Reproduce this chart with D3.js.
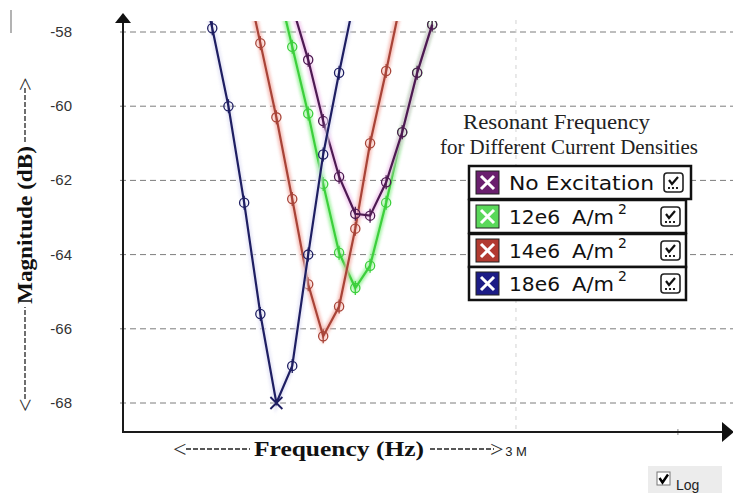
<!DOCTYPE html>
<html>
<head>
<meta charset="utf-8">
<script src="https://cdn.jsdelivr.net/npm/d3@7/dist/d3.min.js"></script>
<style>
  html, body { margin: 0; padding: 0; background: #fff; }
  svg { display: block; }
</style>
</head>
<body>
<svg id="chart" width="733" height="493"></svg>
<script>
// Sweep frequencies (MHz), shared by all series
const freqMHz = [1.700, 1.749, 1.800, 1.851, 1.905, 1.960, 2.016, 2.074, 2.130, 2.191, 2.255, 2.315, 2.382, 2.451, 2.517, 2.585];

// Magnitude (dB) per excitation level; null = no sample
const noExcitation = [null, null, null, null, null, null, -57.3, -58.75, -60.4, -61.9, -62.9, -62.95, -62.05, -60.7, -59.1, -57.8];
const density12e6  = [null, null, null, null, null, -56.6, -58.4, -60.2, -62.1, -63.95, -64.9, -64.3, -62.6, -60.7, -59.1, -57.8];
const density14e6  = [null, null, null, -56.3, -58.3, -60.3, -62.5, -64.8, -66.2, -65.4, -63.3, -61.0, -59.05, -57.0, null, null];
const density18e6  = [-56.0, -57.9, -60.0, -62.6, -65.6, -68.0, -67.0, -64.0, -61.3, -59.1, -57.0, null, null, null, null, null];

const yTicks = [-58, -60, -62, -64, -66, -68];
const xTicksMHz = [3];
const xTickLabels = ["3 M"];
const xMinorTicksMHz = [4];

const legendTitle = ["Resonant Frequency", "for Different Current Densities"];
const seriesNames = ["No Excitation", "12e6 A/m", "14e6 A/m", "18e6 A/m"];
const seriesSup   = ["", "2", "2", "2"];
const seriesColors = ["#4d1a52", "#3ccf3c", "#a84438", "#1e1e62"];
const haloColors   = ["#eec0ea", "#8ff08f", "#f4b0a8", "#e0e0f4"];
const swatchColors = ["#6a1f6e", "#5ad85a", "#b23a30", "#1c1c86"];
const seriesValues = [noExcitation, density12e6, density14e6, density18e6];
const drawOrder = [1, 2, 0, 3];

const svg = d3.select("#chart");

// Plot geometry
const plotLeft = 123, plotBottom = 432, plotRight = 725, plotTop = 14;

const x = d3.scaleLog().domain([1.4925, 4.349]).range([plotLeft, plotRight]);
const y = d3.scaleLinear().domain([-68, -58]).range([403, 32]);

const defs = svg.append("defs");
defs.append("clipPath").attr("id", "plotClip")
  .append("rect").attr("x", plotLeft).attr("y", 21).attr("width", 733 - plotLeft).attr("height", plotBottom - 21);
defs.append("filter").attr("id", "soft").attr("x", "-20%").attr("y", "-20%").attr("width", "140%").attr("height", "140%")
  .append("feGaussianBlur").attr("stdDeviation", 1.6);

// small stray mark at the top-left corner
svg.append("line").attr("x1", 11).attr("x2", 11).attr("y1", 10).attr("y2", 33)
  .attr("stroke", "#9a9a9a").attr("stroke-width", 1.5);

// Horizontal gridlines
svg.append("g").selectAll("line").data(yTicks).join("line")
  .attr("x1", 120).attr("x2", 733)
  .attr("y1", d => y(d)).attr("y2", d => y(d))
  .attr("stroke", "#7d7d7d").attr("stroke-width", 1)
  .attr("stroke-dasharray", "6,4");

// Vertical gridline at 3 MHz
svg.append("g").selectAll("line").data(xTicksMHz).join("line")
  .attr("x1", d => x(d)).attr("x2", d => x(d))
  .attr("y1", 20).attr("y2", plotBottom)
  .attr("stroke", "#d2d2d2").attr("stroke-width", 1)
  .attr("stroke-dasharray", "4,5");

// Y tick labels
svg.append("g").selectAll("text").data(yTicks).join("text")
  .attr("x", 72).attr("y", d => y(d) + 5)
  .attr("text-anchor", "end")
  .attr("font-family", "Liberation Sans, Arial, sans-serif")
  .attr("font-size", 15).attr("fill", "#333")
  .text(d => d);

// X tick labels
svg.append("g").selectAll("text").data(xTicksMHz).join("text")
  .attr("x", d => x(d)).attr("y", 456)
  .attr("text-anchor", "middle")
  .attr("font-family", "Liberation Sans, Arial, sans-serif")
  .attr("font-size", 13).attr("fill", "#222")
  .text((d, i) => xTickLabels[i]);

svg.append("g").selectAll("line").data(xMinorTicksMHz).join("line")
  .attr("x1", d => x(d)).attr("x2", d => x(d))
  .attr("y1", plotBottom - 3).attr("y2", plotBottom + 3)
  .attr("stroke", "#888").attr("stroke-width", 1);

// Axes with arrowheads
svg.append("line").attr("x1", plotLeft).attr("x2", plotLeft).attr("y1", plotTop + 6).attr("y2", plotBottom + 1)
  .attr("stroke", "#1a1a1a").attr("stroke-width", 2);
svg.append("line").attr("x1", plotLeft - 1).attr("x2", plotRight).attr("y1", plotBottom).attr("y2", plotBottom)
  .attr("stroke", "#1a1a1a").attr("stroke-width", 2);
svg.append("path").attr("d", `M${plotLeft - 8},${plotTop + 9} L${plotLeft + 8},${plotTop + 9} L${plotLeft},${plotTop - 1} Z`).attr("fill", "#111");
svg.append("path").attr("d", `M${plotRight - 3},${plotBottom - 10} L${plotRight - 3},${plotBottom + 10} L${plotRight + 9},${plotBottom} Z`).attr("fill", "#111");

// Series
const plot = svg.append("g").attr("clip-path", "url(#plotClip)");
const line = d3.line()
  .defined(d => d.v !== null)
  .x(d => x(d.f)).y(d => y(d.v));

drawOrder.forEach(si => {
  const pts = freqMHz.map((f, i) => ({ f, v: seriesValues[si][i] }));
  const g = plot.append("g");
  g.append("path").datum(pts).attr("d", line)
    .attr("fill", "none").attr("stroke", haloColors[si]).attr("stroke-width", 6)
    .attr("opacity", 0.8).attr("filter", "url(#soft)");
  g.append("path").datum(pts).attr("d", line)
    .attr("fill", "none").attr("stroke", seriesColors[si]).attr("stroke-width", 2.2);

  const valid = pts.filter(d => d.v !== null);
  const minV = d3.min(valid, d => d.v);
  valid.forEach(d => {
    const cx = x(d.f), cy = y(d.v);
    if (si === 3 && d.v === minV) {
      // cursor cross at the deepest point of the strongest excitation
      g.append("path").attr("d", `M${cx - 6},${cy - 6} L${cx + 6},${cy + 6} M${cx - 6},${cy + 6} L${cx + 6},${cy - 6}`)
        .attr("stroke", seriesColors[si]).attr("stroke-width", 1.8);
    } else {
      g.append("circle").attr("cx", cx).attr("cy", cy).attr("r", 4.6)
        .attr("fill", "none").attr("stroke", seriesColors[si]).attr("stroke-width", 1.3);
      g.append("line").attr("x1", cx).attr("x2", cx).attr("y1", cy - 7).attr("y2", cy + 7)
        .attr("stroke", seriesColors[si]).attr("stroke-width", 1.3);
    }
  });
});

// Legend title
const serif = "Liberation Serif, Times New Roman, serif";
svg.append("text").attr("x", 463).attr("y", 129)
  .attr("font-family", serif).attr("font-size", 20).attr("fill", "#222")
  .attr("textLength", 187).attr("lengthAdjust", "spacingAndGlyphs")
  .text(legendTitle[0]);
svg.append("text").attr("x", 440).attr("y", 154)
  .attr("font-family", serif).attr("font-size", 20).attr("fill", "#222")
  .attr("textLength", 258).attr("lengthAdjust", "spacingAndGlyphs")
  .text(legendTitle[1]);

// Legend rows
const rowTop = [166, 200, 234, 267];
const rowH = 33;
const legend = svg.append("g");
seriesNames.forEach((name, i) => {
  const ty = rowTop[i];
  const rw = i === 0 ? 222 : 217;
  legend.append("rect").attr("x", 469).attr("y", ty).attr("width", rw).attr("height", rowH)
    .attr("fill", "#fff").attr("stroke", "#111").attr("stroke-width", 2.5);
  // colour swatch with white cross
  const sx = 476, sy = ty + 5, ss = 23;
  legend.append("rect").attr("x", sx).attr("y", sy).attr("width", ss).attr("height", ss)
    .attr("fill", swatchColors[i]).attr("stroke", "#222").attr("stroke-width", 1);
  legend.append("path")
    .attr("d", `M${sx + 5},${sy + 5} L${sx + ss - 5},${sy + ss - 5} M${sx + 5},${sy + ss - 5} L${sx + ss - 5},${sy + 5}`)
    .attr("stroke", "#fff").attr("stroke-width", 3);
  // label
  const t = legend.append("text").attr("x", 509).attr("y", ty + 24)
    .attr("font-family", "DejaVu Sans, Verdana, sans-serif").attr("font-size", 19).attr("fill", "#111");
  if (seriesSup[i]) {
    const parts = name.split(" ");
    t.append("tspan").attr("textLength", 51).attr("lengthAdjust", "spacingAndGlyphs").text(parts[0]);
    t.append("tspan").attr("x", 572).attr("textLength", 42).attr("lengthAdjust", "spacingAndGlyphs").text(parts[1]);
    t.append("tspan").attr("dx", 4).attr("dy", -10).attr("font-size", 14).text(seriesSup[i]);
  } else {
    t.attr("textLength", 145).attr("lengthAdjust", "spacingAndGlyphs").text(name);
  }
  // checkbox icon
  const cbx = i === 0 ? 664 : 661, cby = ty + 7, cs = 19;
  legend.append("rect").attr("x", cbx).attr("y", cby).attr("width", cs).attr("height", cs).attr("rx", 3)
    .attr("fill", "#fff").attr("stroke", "#222").attr("stroke-width", 1.6);
  legend.append("path").attr("d", `M${cbx + 5},${cby + 7} L${cbx + 8},${cby + 11} L${cbx + 14},${cby + 4}`)
    .attr("fill", "none").attr("stroke", "#111").attr("stroke-width", 2.2);
  [5, 9, 13].forEach(dx => legend.append("rect").attr("x", cbx + dx - 1).attr("y", cby + 14).attr("width", 2).attr("height", 2).attr("fill", "#222"));
});

// Axis titles with arrow strokes
const xt = svg.append("g");
xt.append("text").attr("x", 173).attr("y", 457).attr("font-family", serif).attr("font-size", 24).attr("fill", "#333").text("<");
xt.append("line").attr("x1", 186).attr("x2", 250).attr("y1", 449).attr("y2", 449)
  .attr("stroke", "#222").attr("stroke-width", 1.3).attr("stroke-dasharray", "5,2");
xt.append("text").attr("x", 339).attr("y", 456).attr("text-anchor", "middle")
  .attr("font-family", serif).attr("font-weight", "bold").attr("font-size", 21).attr("fill", "#111")
  .attr("textLength", 170).attr("lengthAdjust", "spacingAndGlyphs")
  .text("Frequency (Hz)");
xt.append("line").attr("x1", 430).attr("x2", 494).attr("y1", 449).attr("y2", 449)
  .attr("stroke", "#222").attr("stroke-width", 1.3).attr("stroke-dasharray", "5,2");
xt.append("text").attr("x", 490).attr("y", 457).attr("font-family", serif).attr("font-size", 24).attr("fill", "#333").text(">");

const yt = svg.append("g").attr("transform", "translate(25,240) rotate(-90)");
yt.append("text").attr("x", -172).attr("y", 8).attr("font-family", serif).attr("font-size", 24).attr("fill", "#333").text("<");
yt.append("line").attr("x1", -159).attr("x2", -67).attr("y1", 0).attr("y2", 0)
  .attr("stroke", "#222").attr("stroke-width", 1.3).attr("stroke-dasharray", "5,2");
yt.append("text").attr("x", 15).attr("y", 7).attr("text-anchor", "middle")
  .attr("font-family", serif).attr("font-weight", "bold").attr("font-size", 21).attr("fill", "#111")
  .attr("textLength", 158).attr("lengthAdjust", "spacingAndGlyphs")
  .text("Magnitude (dB)");
yt.append("line").attr("x1", 98).attr("x2", 152).attr("y1", 0).attr("y2", 0)
  .attr("stroke", "#222").attr("stroke-width", 1.3).attr("stroke-dasharray", "5,2");
yt.append("text").attr("x", 149).attr("y", 8).attr("font-family", serif).attr("font-size", 24).attr("fill", "#333").text(">");

// "Log" toggle in the bottom-right corner
const lg = svg.append("g");
lg.append("rect").attr("x", 648).attr("y", 466).attr("width", 74).attr("height", 27).attr("fill", "#ececec");
lg.append("rect").attr("x", 657).attr("y", 472).attr("width", 13).attr("height", 13)
  .attr("fill", "#fff").attr("stroke", "#777").attr("stroke-width", 1);
lg.append("path").attr("d", "M659.5,478 L662.5,482.5 L668,474.5")
  .attr("fill", "none").attr("stroke", "#000").attr("stroke-width", 2.4);
lg.append("text").attr("x", 676).attr("y", 490)
  .attr("font-family", "Liberation Sans, Arial, sans-serif").attr("font-size", 14).attr("fill", "#222")
  .text("Log");
</script>
</body>
</html>
